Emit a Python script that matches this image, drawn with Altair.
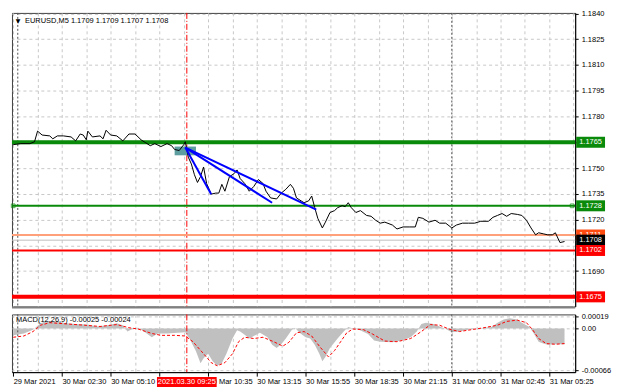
import json
import altair as alt
import pandas as pd

# ---------------- data ----------------
symbol = "EURUSD"
timeframe = "M5"
last_ohlc = [1.1709, 1.1709, 1.1707, 1.1708]

price_bar = [0, 5, 11, 14, 16, 19, 24, 26, 29, 33,
             38, 41, 44, 46, 48, 49, 52, 57, 59, 61,
             64, 68, 72, 76, 80, 84, 87, 90, 93, 97,
             101, 104, 106, 109, 112, 113, 115, 117, 119, 121,
             123, 125, 127, 130, 133, 135, 137, 139, 142, 145,
             147, 149, 152, 155, 158, 161, 164, 166, 169, 173,
             176, 179, 182, 184, 186, 189, 191, 194, 196, 198,
             200, 203, 205, 208, 211, 213, 216, 218, 220, 222,
             225, 228, 232, 235, 238, 241, 244, 249, 252, 256,
             260, 264, 266, 269, 273, 277, 280, 284, 288, 291,
             295, 299, 303, 307, 312, 315, 318, 321, 324, 327,
             331, 334, 337, 340, 343, 345, 348, 351, 354, 356,
             359, 362]
price_close = [1.17636, 1.17642, 1.17642, 1.17653, 1.17715, 1.17692, 1.17687, 1.17670, 1.17687, 1.17687,
               1.17681, 1.17658, 1.17698, 1.17692, 1.17664, 1.17715, 1.17681, 1.17687, 1.17670, 1.17720,
               1.17692, 1.17687, 1.17658, 1.17698, 1.17698, 1.17664, 1.17647, 1.17630, 1.17642, 1.17625,
               1.17642, 1.17630, 1.17608, 1.17602, 1.17636, 1.17653, 1.17563, 1.17523, 1.17461, 1.17416,
               1.17450, 1.17506, 1.17410, 1.17348, 1.17354, 1.17354, 1.17405, 1.17365, 1.17450, 1.17467,
               1.17489, 1.17439, 1.17410, 1.17365, 1.17393, 1.17433, 1.17410, 1.17365, 1.17326, 1.17320,
               1.17354, 1.17376, 1.17405, 1.17382, 1.17326, 1.17309, 1.17298, 1.17309, 1.17337, 1.17269,
               1.17207, 1.17151, 1.17185, 1.17241, 1.17252, 1.17269, 1.17281, 1.17275, 1.17298, 1.17269,
               1.17241, 1.17252, 1.17224, 1.17219, 1.17196, 1.17179, 1.17185, 1.17168, 1.17145, 1.17157,
               1.17157, 1.17157, 1.17213, 1.17207, 1.17185, 1.17196, 1.17179, 1.17179, 1.17151, 1.17168,
               1.17179, 1.17179, 1.17179, 1.17190, 1.17190, 1.17213, 1.17224, 1.17235, 1.17219, 1.17235,
               1.17230, 1.17224, 1.17196, 1.17151, 1.17111, 1.17123, 1.17117, 1.17111, 1.17111, 1.17123,
               1.17066, 1.17072]

macd_bar = [0, 7, 13, 18, 22, 28, 35, 41, 49, 55,
            62, 68, 72, 75, 79, 82, 87, 91, 95, 101,
            108, 113, 116, 120, 123, 125, 128, 131, 134, 137,
            140, 144, 147, 149, 152, 155, 158, 162, 167, 170,
            173, 176, 179, 183, 185, 188, 192, 195, 198, 201,
            203, 205, 208, 213, 217, 220, 223, 227, 233, 237,
            241, 249, 255, 261, 265, 268, 271, 276, 280, 284,
            288, 293, 297, 301, 305, 309, 314, 318, 322, 326,
            331, 334, 339, 342, 345, 348, 351, 356, 362]
macd_main = [-0.00011, -0.00008, -0.00002, 0.00008, 0.00012, 0.00011, 0.00008, 0.00007, 0.00006, 0.00003,
             0.00005, 0.00008, 0.00005, -0.00005, 0.0, 0.00001, -0.00007, -0.00014, -0.00008, -0.00008,
             -0.00007, -0.00006, -0.00017, -0.00036, -0.00055, -0.00047, -0.00040, -0.00052, -0.00059, -0.00055,
             -0.00040, -0.00016, -0.00003, -0.00005, -0.00010, -0.00016, -0.00012, -0.00007, -0.00014, -0.00026,
             -0.00031, -0.00025, -0.00016, -0.00002, 0.00001, -0.00007, -0.00014, -0.00016, -0.00026, -0.00040,
             -0.00052, -0.00045, -0.00031, -0.00016, -0.00005, 0.00002, 0.0, -0.00002, -0.00009, -0.00019,
             -0.00021, -0.00022, -0.00019, -0.00014, -0.00005, 0.00007, 0.00009, 0.00007, 0.00003, -0.00001,
             -0.00006, -0.00005, -0.00003, -0.00001, 0.0, 0.00001, 0.00002, 0.00009, 0.00014, 0.00016,
             0.00014, 0.00009, 0.00002, -0.00009, -0.00021, -0.00024, -0.00026, -0.00025, -0.00025]

signal_bar = [0, 7, 13, 18, 24, 35, 47, 57, 68, 76,
              82, 91, 97, 106, 113, 118, 125, 130, 134, 139,
              144, 148, 152, 158, 164, 171, 177, 181, 186, 191,
              196, 201, 207, 211, 215, 219, 223, 230, 236, 244,
              252, 261, 268, 274, 280, 286, 293, 301, 309, 318,
              324, 331, 337, 341, 345, 350, 356, 362]
signal_val = [-0.00014, -0.00012, -0.00005, 0.00005, 0.00009, 0.00007, 0.00005, 0.00003, 0.00006, 0.00001,
              -0.00001, -0.00008, -0.00011, -0.00011, -0.00012, -0.00021, -0.00040, -0.00054, -0.00059, -0.00054,
              -0.00040, -0.00021, -0.00014, -0.00016, -0.00014, -0.00021, -0.00028, -0.00022, -0.00007, -0.00005,
              -0.00012, -0.00028, -0.00045, -0.00035, -0.00021, -0.00007, -0.00001, -0.00002, -0.00009, -0.00020,
              -0.00021, -0.00016, -0.00005, 0.00006, 0.00005, -0.00001, -0.00005, -0.00002, 0.00001, 0.00005,
              0.00011, 0.00013, 0.00009, -0.00002, -0.00016, -0.00024, -0.00025, -0.00024]
macd_params = [12, 26, 9]

level_prices = [1.1765, 1.1728, 1.1711, 1.1708, 1.1702, 1.1675]
anchor_bars = [0, 367]

trend_start_bar = 113
trend_start_price = 1.17619
trend_end_bars = [130, 170, 199]
trend_end_prices = [1.17347, 1.17298, 1.17258]

box_bars = [106, 120]
box_prices = [1.17625, 1.17574]

time_labels = ["29 Mar 2021", "30 Mar 02:30", "30 Mar 05:10", "30 Mar 07:50",
               "30 Mar 10:35", "30 Mar 13:15", "30 Mar 15:55", "30 Mar 18:35",
               "30 Mar 21:15", "31 Mar 00:00", "31 Mar 02:45", "31 Mar 05:25"]
label_step = 32
grid_step = 16
day_separators = [3, 288]
crosshair_bar = 114
crosshair_label = "2021.03.30 09:25"

price_ticks = [1.1675, 1.1690, 1.1705, 1.1720, 1.1735, 1.1750,
               1.1765, 1.1780, 1.1795, 1.1810, 1.1825, 1.1840]
macd_ticks = [-0.00066, 0.0, 0.00019]

# ---------------- styles ----------------
level_colors = ["#0a8a0a", "#0a8a0a", "#ffa07a", "#c0c0c0", "#ff0000", "#ff0000"]
level_widths = [4, 2, 2, 1, 2, 4]
tag_colors = ["#0a8a0a", "#0a8a0a", "#ff4a10", "#000000", "#ff0000", "#ff0000"]

FONT = "Liberation Sans"
FS = 7.5
W = 566
H1 = 295
H2 = 58
XDOM = [-0.8, 369]
PDOM = [1.16694, 1.18403]
MDOM = [-0.00069, 0.00022]
TAG_HALF = 0.00032
CL_HALF = 19.6
GRID = "#c8c8c8"

xs = alt.Scale(domain=XDOM, nice=False, zero=False)
ys = alt.Scale(domain=PDOM, nice=False, zero=False)
ms = alt.Scale(domain=MDOM, nice=False, zero=False)

grid_bars = list(range(0, 369, grid_step))

# price labels hidden where a level tag sits on the axis
hide_test = " || ".join(f"abs(datum.value - {p}) < 0.0004" for p in level_prices)
y_axis_main = alt.Axis(orient="right", values=price_ticks,
                       labelExpr=f"({hide_test}) ? '' : format(datum.value, '.4f')",
                       title=None, grid=True, gridColor=GRID, gridDash=[3, 3],
                       domainColor="#000", tickColor="#000", tickSize=3,
                       labelPadding=3, labelFontSize=FS, labelColor="#000", labelFont=FONT)
x_axis_main = alt.Axis(values=grid_bars, labels=False, ticks=False, domain=False,
                       title=None, grid=True, gridColor=GRID, gridDash=[3, 3])

labels_js = json.dumps(time_labels)
cover_lo = crosshair_bar - 2 * CL_HALF
x_label_expr = (f"datum.value % {label_step} != 0 || (datum.value > {cover_lo} && datum.value <= {crosshair_bar})"
                f" ? '' : {labels_js}[round(datum.value / {label_step})]")
x_axis_macd = alt.Axis(values=grid_bars, labelExpr=x_label_expr,
                       title=None, grid=True, gridColor=GRID, gridDash=[3, 3],
                       domainColor="#000", tickColor="#000", tickSize=4,
                       tickOpacity={"condition": {"test": f"datum.value % {label_step} == 0", "value": 1}, "value": 0},
                       labelAlign="left", labelPadding=1, labelFontSize=FS, labelColor="#000",
                       labelFont=FONT, labelOverlap=False, labelFlush=False)
y_axis_macd = alt.Axis(orient="right", values=macd_ticks,
                       labelExpr="datum.value == 0 ? '0.00' : (datum.value < 0 ? '-' + format(-datum.value, '.5f') : format(datum.value, '.5f'))",
                       title=None, grid=True, gridColor=GRID, gridDash=[3, 3],
                       domainColor="#000", tickColor="#000", tickSize=3, labelFlush=True,
                       labelOverlap=False,
                       labelPadding=3, labelFontSize=FS, labelColor="#000", labelFont=FONT)


def X(f):
    return alt.X(f, scale=xs, axis=x_axis_main)


def Y(f):
    return alt.Y(f, scale=ys, axis=y_axis_main)


def XB(f):
    return alt.X(f, scale=xs, axis=x_axis_macd)


def YM(f):
    return alt.Y(f, scale=ms, axis=y_axis_macd)


# ---------------- main panel ----------------
df_price = pd.DataFrame({"bar": price_bar, "price": price_close})
df_sep = pd.DataFrame({"bar": day_separators})
df_cross = pd.DataFrame({"bar": [crosshair_bar], "t": [crosshair_label]})

layers = []
layers.append(alt.Chart(df_sep).mark_rule(color="#505050", strokeDash=[2, 2], strokeWidth=1)
              .encode(x=X("bar:Q")))
layers.append(alt.Chart(df_cross).mark_rule(color="#ff0000", strokeDash=[6, 2, 1, 2], strokeWidth=1)
              .encode(x=X("bar:Q")))
df_box = pd.DataFrame({"b1": [box_bars[0]], "b2": [box_bars[1]],
                       "p1": [box_prices[0]], "p2": [box_prices[1]]})
layers.append(alt.Chart(df_box).mark_rect(color="#5f9ea0")
              .encode(x=X("b1:Q"), x2="b2:Q", y=Y("p1:Q"), y2="p2:Q"))
for p, c, w in zip(level_prices, level_colors, level_widths):
    layers.append(alt.Chart(pd.DataFrame({"price": [p]})).mark_rule(color=c, strokeWidth=w)
                  .encode(y=Y("price:Q")))
layers.append(alt.Chart(df_price).mark_line(color="#000000", strokeWidth=1)
              .encode(x=X("bar:Q"), y=Y("price:Q")))

trend_rows = []
for k, (eb, ep) in enumerate(zip(trend_end_bars, trend_end_prices)):
    trend_rows.append({"line": k, "o": 0, "bar": trend_start_bar, "price": trend_start_price})
    trend_rows.append({"line": k, "o": 1, "bar": eb, "price": ep})
layers.append(alt.Chart(pd.DataFrame(trend_rows)).mark_line(color="#0000ff", strokeWidth=2)
              .encode(x=X("bar:Q"), y=Y("price:Q"), detail="line:N", order="o:Q"))

df_anchor = pd.DataFrame({"bar": anchor_bars, "price": [level_prices[1]] * len(anchor_bars)})
layers.append(alt.Chart(df_anchor).mark_square(filled=False, size=14, color="#0a8a0a", strokeWidth=1)
              .encode(x=X("bar:Q"), y=Y("price:Q")))

for p, c in zip(level_prices, tag_colors):
    base = alt.Chart(pd.DataFrame({"price": [p]})).transform_calculate(
        lo=f"datum.price - {TAG_HALF}", hi=f"datum.price + {TAG_HALF}",
        label="format(datum.price, '.4f')")
    layers.append(base.mark_rect(color=c).encode(x=alt.value(W + 1), x2=alt.value(W + 30),
                                                 y=Y("lo:Q"), y2="hi:Q"))
    layers.append(base.mark_text(color="#ffffff", align="left", baseline="middle", font=FONT, fontSize=FS)
                  .encode(x=alt.value(W + 4), y=Y("price:Q"), text="label:N"))

title_txt = f"{symbol},{timeframe}  " + " ".join(f"{v:.4f}" for v in last_ohlc)
layers.append(alt.Chart(pd.DataFrame({"t": ["\u25bc"]})).mark_text(
    align="center", baseline="middle", font="DejaVu Sans", fontSize=6, color="#000")
    .encode(x=alt.value(6), y=alt.value(8), text="t:N"))
layers.append(alt.Chart(pd.DataFrame({"t": [title_txt]})).mark_text(
    align="left", baseline="middle", font=FONT, fontSize=FS, color="#000")
    .encode(x=alt.value(13), y=alt.value(8), text="t:N"))
layers.append(alt.Chart(pd.DataFrame({"a": [0]})).mark_rule(color="#808080", strokeWidth=2)
              .encode(x=alt.value(0), x2=alt.value(W), y=alt.value(H1 + 1)))

main = alt.layer(*layers).properties(width=W, height=H1)

# ---------------- MACD panel ----------------
df_hist = pd.DataFrame({"bar": macd_bar, "v": macd_main})
df_sig = pd.DataFrame({"bar": signal_bar, "v": signal_val})

mlayers = []
mlayers.append(alt.Chart(df_hist).mark_area(color="#c0c0c0")
               .encode(x=XB("bar:Q"), y=YM("v:Q"), y2=alt.datum(0)))
mlayers.append(alt.Chart(df_sep).mark_rule(color="#505050", strokeDash=[2, 2], strokeWidth=1)
               .encode(x=XB("bar:Q")))
mlayers.append(alt.Chart(df_sig).mark_line(color="#ff0000", strokeDash=[3, 2], strokeWidth=1)
               .encode(x=XB("bar:Q"), y=YM("v:Q")))
mlayers.append(alt.Chart(df_cross).mark_rule(color="#ff0000", strokeDash=[6, 2, 1, 2], strokeWidth=1)
               .encode(x=XB("bar:Q")))
cl = alt.Chart(df_cross).transform_calculate(b1=f"datum.bar - {CL_HALF}", b2=f"datum.bar + {CL_HALF}")
mlayers.append(cl.mark_rect(color="#ff0000").encode(x=XB("b1:Q"), x2="b2:Q",
                                                     y=alt.value(H2 + 5), y2=alt.value(H2 + 15)))
mlayers.append(cl.mark_text(color="#ffffff", baseline="middle", align="center", font=FONT, fontSize=FS)
               .encode(x=XB("bar:Q"), y=alt.value(H2 + 10), text="t:N"))
macd_txt = f"MACD({','.join(str(v) for v in macd_params)}) {macd_main[-1]:.5f} {signal_val[-1]:.5f}"
mlayers.append(alt.Chart(pd.DataFrame({"t": [macd_txt]})).mark_text(
    align="left", baseline="middle", font=FONT, fontSize=FS, color="#000")
    .encode(x=alt.value(4), y=alt.value(6), text="t:N"))

macd = alt.layer(*mlayers).properties(width=W, height=H2)

chart = (alt.vconcat(main, macd, spacing=2)
         .properties(padding=0)
         .configure_view(stroke="#404040", strokeWidth=1)
         .configure_text(font=FONT))

chart.save("out.html", embed_options={"renderer": "svg", "actions": False})
